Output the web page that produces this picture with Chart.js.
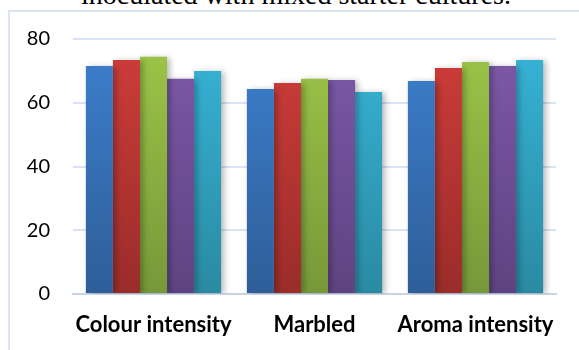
<!DOCTYPE html>
<html>
<head>
<meta charset="utf-8">
<script src="https://cdn.jsdelivr.net/npm/chart.js@4"></script>
<style>
  html, body { margin: 0; padding: 0; background: #fff; overflow: hidden; }
  body { width: 579px; height: 350px; position: relative; }
  #caption {
    position: absolute; left: 0; top: -19px; width: 592px;
    text-align: center; font: 28px/28px "Liberation Serif", "Times New Roman", serif;
    color: #000; white-space: nowrap;
  }
  #frame {
    position: absolute; left: 8px; top: 10px; width: 620px; height: 400px;
    border-left: 2px solid #dbe5f1; border-top: 2px solid #dbe5f1;
  }
  #wrap { position: absolute; left: 0; top: 0; width: 579px; height: 350px; }
</style>
</head>
<body>
<div id="caption">inoculated with mixed starter cultures.</div>
<div id="frame"></div>
<div id="wrap"><canvas id="chart" width="579" height="350"></canvas></div>
<script>
const categories = ["Colour intensity", "Marbled", "Aroma intensity"];
const yTicks = [0, 20, 40, 60, 80];

const seriesA = [71.5, 64.3, 66.8];
const seriesB = [73.4, 66.2, 70.9];
const seriesC = [74.4, 67.5, 72.8];
const seriesD = [67.5, 67.1, 71.5];
const seriesE = [70.0, 63.4, 73.4];

// top / bottom colours of each bar gradient
const shades = [
  ["#3d7fce", "#2e5e98"],
  ["#cf3d3a", "#9a2c2a"],
  ["#9dc648", "#779839"],
  ["#7d5aaa", "#5e4381"],
  ["#37b4d8", "#2a8aa2"],
];

function gradientFor(i) {
  return (ctx) => {
    const area = ctx.chart.chartArea;
    if (!area) return shades[i][0];
    const g = ctx.chart.ctx.createLinearGradient(0, area.top, 0, area.bottom);
    g.addColorStop(0, shades[i][0]);
    g.addColorStop(1, shades[i][1]);
    return g;
  };
}

const barShadow = {
  id: "barShadow",
  beforeDatasetsDraw(chart) {
    const c = chart.ctx;
    c.save();
    c.shadowColor = "rgba(0,0,0,0.28)";
    c.shadowBlur = 6;
    c.shadowOffsetX = 3;
    c.shadowOffsetY = 1;
  },
  afterDatasetsDraw(chart) {
    chart.ctx.restore();
  },
};

const datasets = [seriesA, seriesB, seriesC, seriesD, seriesE].map((data, i) => ({
  data,
  backgroundColor: gradientFor(i),
  borderWidth: 0,
  categoryPercentage: 0.84,
  barPercentage: 1.0,
}));

new Chart(document.getElementById("chart"), {
  type: "bar",
  data: { labels: categories, datasets },
  plugins: [barShadow],
  options: {
    responsive: false,
    animation: false,
    layout: { padding: { top: 39, right: 23, bottom: 0, left: 0 } },
    plugins: { legend: { display: false }, tooltip: { enabled: false } },
    scales: {
      x: {
        afterFit: (s) => { s.height = 56; },
        grid: { display: false, drawTicks: false },
        border: { display: true, color: "#c9d5e6", width: 2 },
        ticks: {
          padding: 18,
          minRotation: 0,
          maxRotation: 0,
          autoSkip: false,
          color: "#000",
          font: { family: "Lato", size: 22, weight: "bold" },
        },
      },
      y: {
        min: 0,
        max: 80,
        afterFit: (s) => { s.width = 73; },
        afterBuildTicks: (s) => { s.ticks = yTicks.map((v) => ({ value: v })); },
        grid: { color: "#d9e3f1", lineWidth: 2, drawTicks: false },
        border: { display: false },
        ticks: {
          padding: 23,
          color: "#000",
          font: { family: "Lato", size: 20 },
        },
      },
    },
  },
});
</script>
</body>
</html>
